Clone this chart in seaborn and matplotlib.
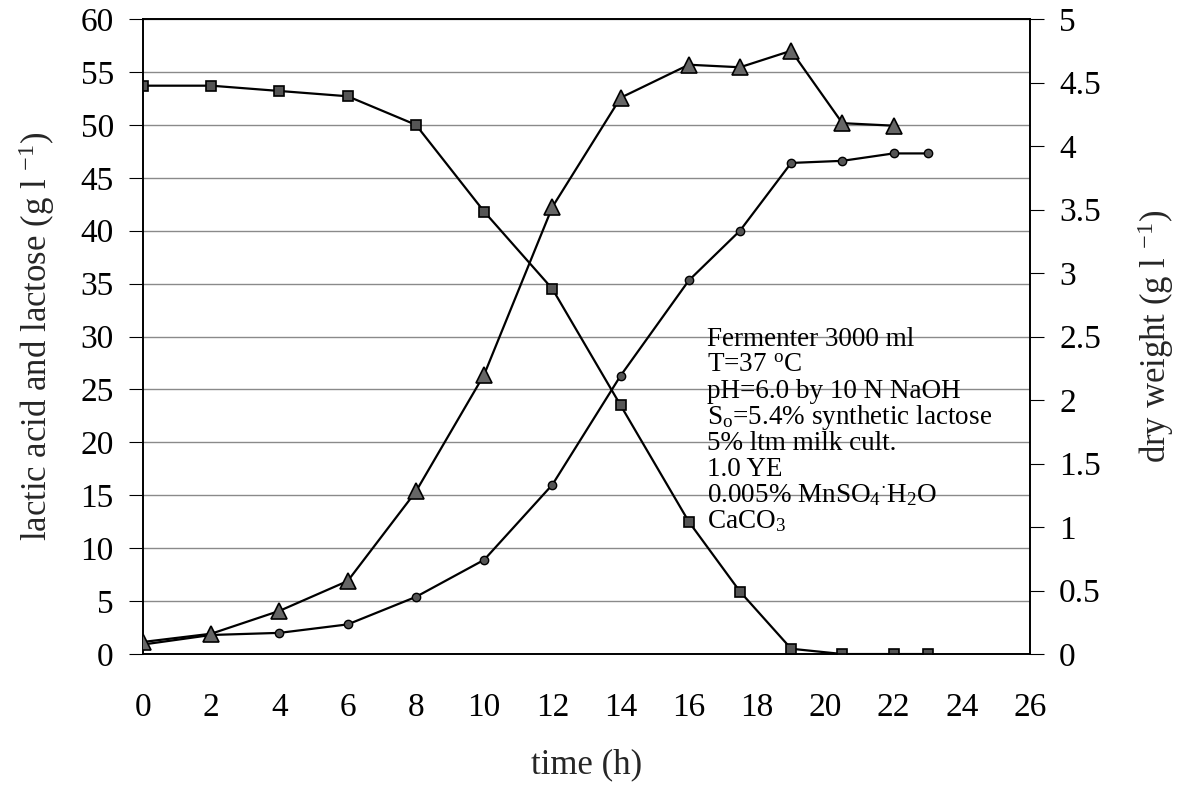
import matplotlib
matplotlib.use("Agg")
import matplotlib.pyplot as plt
import seaborn as sns
import pandas as pd

time_h = [0, 2, 4, 6, 8, 10, 12, 14, 16, 17.5, 19, 20.5, 22, 23]
lactose = [53.7, 53.7, 53.2, 52.7, 50.0, 41.8, 34.5, 23.5, 12.5, 5.9, 0.5, 0.0, 0.0, 0.0]
lactic_acid = [0.9, 1.8, 2.0, 2.8, 5.4, 8.9, 16.0, 26.3, 35.3, 40.0, 46.4, 46.6, 47.3, 47.3]
time_dw = [0, 2, 4, 6, 8, 10, 12, 14, 16, 17.5, 19, 20.5, 22]
dry_weight = [0.095, 0.16, 0.34, 0.575, 1.28, 2.2, 3.52, 4.38, 4.64, 4.62, 4.75, 4.18, 4.16]

x_ticks = list(range(0, 27, 2))
left_ticks = list(range(0, 61, 5))
right_ticks = [0, 0.5, 1, 1.5, 2, 2.5, 3, 3.5, 4, 4.5, 5]
right_labels = ["0", "0.5", "1", "1.5", "2", "2.5", "3", "3.5", "4", "4.5", "5"]

notes = [
    "Fermenter 3000 ml",
    r"T=37 $^{\mathrm{o}}$C",
    "pH=6.0 by 10 N NaOH",
    r"S$_{\mathrm{o}}$=5.4% synthetic lactose",
    "5% ltm milk cult.",
    "1.0 YE",
    r"0.005% MnSO$_{\mathrm{4}}$$^{\cdot}$H$_{\mathrm{2}}$O",
    r"CaCO$_{\mathrm{3}}$",
]

sns.set_style("white")
plt.rcParams["font.family"] = ["Liberation Serif", "DejaVu Serif"]
plt.rcParams["mathtext.fontset"] = "custom"
plt.rcParams["mathtext.rm"] = "Liberation Serif"
plt.rcParams["mathtext.it"] = "Liberation Serif:italic"
plt.rcParams["mathtext.bf"] = "Liberation Serif:bold"

fig = plt.figure(figsize=(11.87, 7.92), dpi=100)
ax = fig.add_axes([0.1205, 0.1742, 0.7472, 0.8018])
ax2 = ax.twinx()

df_l = pd.DataFrame({"t": time_h, "v": lactose})
df_a = pd.DataFrame({"t": time_h, "v": lactic_acid})
df_d = pd.DataFrame({"t": time_dw, "v": dry_weight})

sns.lineplot(data=df_l, x="t", y="v", ax=ax, color="black", lw=1.6,
             marker="s", markersize=7, markerfacecolor="#555555",
             markeredgecolor="black", markeredgewidth=1.2, zorder=3)
sns.lineplot(data=df_a, x="t", y="v", ax=ax, color="black", lw=1.6,
             marker="o", markersize=6, markerfacecolor="#555555",
             markeredgecolor="black", markeredgewidth=1.0, zorder=3)
sns.lineplot(data=df_d, x="t", y="v", ax=ax2, color="black", lw=1.6,
             marker="^", markersize=11, markerfacecolor="#666666",
             markeredgecolor="black", markeredgewidth=1.2, zorder=3)

ax.set_xlim(0, 26)
ax.set_ylim(0, 60)
ax2.set_ylim(0, 5)
ax.set_xticks(x_ticks)
ax.set_yticks(left_ticks)
ax2.set_yticks(right_ticks)
ax2.set_yticklabels(right_labels)

ax.yaxis.grid(True, color="#8a8a8a", lw=1.0)
ax.set_axisbelow(True)

for a in (ax, ax2):
    for s in a.spines.values():
        s.set_color("black")
        s.set_linewidth(1.2)

ax.tick_params(axis="x", direction="out", length=6, width=0.8, colors="black",
               labelsize=24, pad=22)
ax.tick_params(axis="y", direction="out", length=10, width=0.8, colors="black",
               labelsize=24, pad=11)
ax2.tick_params(axis="y", direction="out", length=10, width=0.8, colors="black",
                labelsize=24, pad=11)

ax.set_xlabel("time (h)", fontsize=25, labelpad=18)
ax.set_ylabel(r"lactic acid and lactose (g l $^{\mathrm{-1}}$)", fontsize=25, labelpad=17)
ax2.set_ylabel(r"dry weight (g l $^{\mathrm{-1}}$)", fontsize=25, labelpad=25)

for i, line in enumerate(notes):
    ax.text(0.636, 0.495 - i * 0.0409, line, transform=ax.transAxes,
            fontsize=19.5, va="center", ha="left", color="black")

fig.savefig("out.png", dpi=100)
